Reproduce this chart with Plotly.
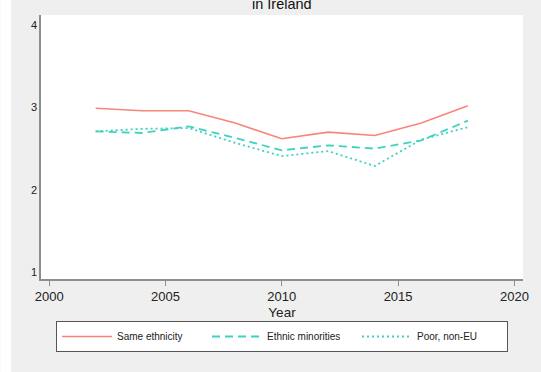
import plotly.graph_objects as go

years = [2002, 2004, 2006, 2008, 2010, 2012, 2014, 2016, 2018]
same_ethnicity = [2.99, 2.96, 2.96, 2.81, 2.62, 2.70, 2.66, 2.81, 3.02]
ethnic_minorities = [2.71, 2.69, 2.77, 2.63, 2.48, 2.54, 2.50, 2.60, 2.84]
poor_non_eu = [2.71, 2.74, 2.75, 2.57, 2.41, 2.47, 2.29, 2.61, 2.76]

x_ticks = [2000, 2005, 2010, 2015, 2020]
y_ticks = [1, 2, 3, 4]

RED = "#f8857b"
TEAL = "#3dd3c0"

fig = go.Figure()
fig.add_trace(go.Scatter(x=years, y=same_ethnicity, mode="lines", name="Same ethnicity",
                         line=dict(color=RED, width=1.6)))
fig.add_trace(go.Scatter(x=years, y=ethnic_minorities, mode="lines", name="Ethnic minorities",
                         line=dict(color=TEAL, width=1.8, dash="8px,5px")))
fig.add_trace(go.Scatter(x=years, y=poor_non_eu, mode="lines", name="Poor, non-EU",
                         line=dict(color=TEAL, width=1.8, dash="2px,3px")))

L, R, T, B = 41, 15, 15, 93
W, H = 541, 372
pw, ph = W - L - R, H - T - B

fig.update_layout(
    width=W, height=H,
    margin=dict(l=L, r=R, t=T, b=B, pad=0),
    paper_bgcolor="#efefef",
    plot_bgcolor="white",
    font=dict(family="Liberation Sans, Arial, Helvetica, sans-serif", color="#222"),
    showlegend=True,
    legend=dict(
        orientation="h", x=0.5, xanchor="center",
        y=-(321 - (T + ph)) / ph, yanchor="top",
        bgcolor="white", bordercolor="#555", borderwidth=1,
        font=dict(size=10, color="#222"),
        entrywidth=85, entrywidthmode="pixels",
        itemwidth=50,
    ),
    xaxis=dict(
        range=[1999.65, 2020.37], tickvals=x_ticks, ticktext=[str(v) for v in x_ticks],
        showgrid=False, zeroline=False, showline=True, linecolor="#8e8e8e", linewidth=1.5,
        ticks="outside", ticklen=5, tickwidth=1.2, tickcolor="#8e8e8e",
        tickfont=dict(size=13, color="#222"),
        title=dict(text="Year", font=dict(size=13.5, color="#222"), standoff=4),
    ),
    yaxis=dict(
        range=[0.92, 4.12], tickvals=y_ticks, ticktext=[str(v) for v in y_ticks],
        showgrid=False, zeroline=False, showline=True, linecolor="#8e8e8e", linewidth=1.5,
        ticks="", ticklen=0, tickfont=dict(size=11, color="#222"),
    ),
    shapes=[
        dict(type="rect", xref="paper", yref="paper",
             x0=-L / pw, x1=(11 - L) / pw, y0=-B / ph, y1=(ph + T) / ph,
             fillcolor="white", line=dict(width=0), layer="above"),
    ],
    annotations=[
        dict(text="in Ireland", x=0.5, xref="paper", y=(ph + T - 3.5) / ph, yref="paper",
             xanchor="center", yanchor="middle", showarrow=False,
             font=dict(size=14.5, color="#111")),
    ],
)

fig.write_html("out.html")
